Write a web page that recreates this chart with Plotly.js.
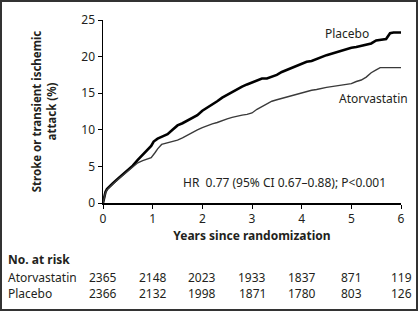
<!DOCTYPE html>
<html>
<head>
<meta charset="utf-8">
<script src="https://cdn.plot.ly/plotly-3.0.1.min.js"></script>
<style>
html,body{margin:0;padding:0;background:#fff;}
#wrap{position:relative;width:418px;height:311px;box-sizing:border-box;border:2px solid #333;overflow:hidden;}
#chart{position:absolute;left:-2px;top:-2px;width:418px;height:311px;}
</style>
</head>
<body>
<div id="wrap"><div id="chart"></div></div>
<script>
// Kaplan-Meier style cumulative incidence
var placeboYears = [0,0.02,0.05,0.08,0.12,0.2,0.3,0.4,0.5,0.6,0.7,0.8,0.9,0.97,1.02,1.1,1.2,1.3,1.4,1.5,1.6,1.7,1.8,1.9,2.0,2.1,2.2,2.3,2.4,2.5,2.6,2.7,2.8,2.9,3.0,3.1,3.2,3.3,3.4,3.5,3.6,3.7,3.8,3.9,4.0,4.1,4.2,4.3,4.4,4.5,4.6,4.7,4.8,4.9,5.0,5.1,5.2,5.3,5.4,5.5,5.6,5.7,5.78,5.85,6.0];
var placeboPct   = [0,0.8,1.5,1.9,2.2,2.7,3.3,3.9,4.5,5.1,5.9,6.6,7.3,7.8,8.4,8.8,9.1,9.4,10.0,10.6,10.9,11.3,11.6,12.0,12.6,13.0,13.4,13.9,14.4,14.8,15.1,15.5,15.9,16.2,16.5,16.8,17.0,17.0,17.2,17.5,17.9,18.2,18.5,18.8,19.1,19.3,19.4,19.7,20.0,20.2,20.4,20.6,20.9,21.0,21.2,21.3,21.5,21.6,21.8,22.2,22.3,22.4,23.2,23.3,23.3];

var atorvaYears = [0,0.02,0.05,0.08,0.12,0.2,0.3,0.4,0.5,0.6,0.7,0.8,0.9,0.97,1.05,1.1,1.18,1.3,1.4,1.5,1.6,1.7,1.8,1.9,2.0,2.1,2.2,2.3,2.4,2.5,2.6,2.7,2.8,2.9,3.0,3.1,3.2,3.3,3.4,3.5,3.6,3.7,3.8,3.9,4.0,4.1,4.2,4.3,4.4,4.5,4.6,4.7,4.8,4.9,5.0,5.1,5.2,5.3,5.4,5.5,5.58,6.0];
var atorvaPct   = [0,0.8,1.4,1.8,2.1,2.6,3.2,3.8,4.4,5.0,5.5,5.8,6.0,6.2,6.9,7.4,8.0,8.2,8.4,8.6,8.9,9.3,9.7,10.0,10.3,10.6,10.8,11.0,11.3,11.5,11.7,11.9,12.0,12.1,12.3,12.8,13.2,13.6,13.9,14.1,14.3,14.5,14.7,14.9,15.0,15.2,15.4,15.5,15.7,15.8,15.9,16.0,16.0,16.1,16.3,16.6,16.8,17.2,17.8,18.2,18.5,18.5];

var riskYears   = [0,1,2,3,4,5,6];
var riskAtorva  = [2365,2148,2023,1933,1837,871,119];
var riskPlacebo = [2366,2132,1998,1871,1780,803,126];

var xTicks = [0,1,2,3,4,5,6];
var yTicks = [0,5,10,15,20,25];

var FONT = 'Noto Sans, DejaVu Sans, sans-serif';
var INK = '#231f20';

var traces = [
  {x: placeboYears, y: placeboPct, mode: 'lines', name: 'Placebo',
   line: {color: '#000', width: 2.6}, hoverinfo: 'skip'},
  {x: atorvaYears, y: atorvaPct, mode: 'lines', name: 'Atorvastatin',
   line: {color: '#3a3a3a', width: 1.4}, hoverinfo: 'skip'}
];

var ann = [];
function txt(o) {
  o.showarrow = false;
  o.yanchor = 'middle';
  o.font = {family: FONT, size: 12, color: INK};
  ann.push(o);
}
txt({xref: 'x', yref: 'y', x: 4.91, y: 23.2, text: 'Placebo'});
txt({xref: 'x', yref: 'y', x: 5.45, y: 14.3, text: 'Atorvastatin'});
txt({xref: 'x', yref: 'y', x: 3.66, y: 2.86, text: 'HR  0.77 (95% CI 0.67\u20130.88); P<0.001'});

var labelX = (6 - 103) / 298;
var rowHead = -(262 - 203) / 192, rowA = -(281 - 203) / 192, rowP = -(298 - 203) / 192;
txt({xref: 'paper', yref: 'paper', x: labelX, y: rowHead, xanchor: 'left', text: '<b>No. at risk</b>'});
txt({xref: 'paper', yref: 'paper', x: labelX, y: rowA, xanchor: 'left', text: 'Atorvastatin'});
txt({xref: 'paper', yref: 'paper', x: labelX, y: rowP, xanchor: 'left', text: 'Placebo'});
for (var i = 0; i < riskYears.length; i++) {
  txt({xref: 'x', yref: 'paper', x: riskYears[i], y: rowA, xanchor: 'center', text: String(riskAtorva[i])});
  txt({xref: 'x', yref: 'paper', x: riskYears[i], y: rowP, xanchor: 'center', text: String(riskPlacebo[i])});
}

var layout = {
  width: 418, height: 311,
  margin: {l: 103, r: 17, t: 11, b: 108, pad: 0},
  paper_bgcolor: '#fff', plot_bgcolor: '#fff',
  showlegend: false,
  font: {family: FONT, size: 12, color: INK},
  xaxis: {
    range: [0, 6], tickvals: xTicks, ticktext: xTicks.map(String),
    showgrid: false, zeroline: false, showline: true, linecolor: '#000', linewidth: 1.5,
    ticks: 'outside', ticklen: 4, tickwidth: 1, tickcolor: '#000',
    tickfont: {family: FONT, size: 12, color: INK},
    automargin: true,
    title: {text: '<b>Years since randomization</b>', font: {family: FONT, size: 12, color: INK}, standoff: 4},
    fixedrange: true
  },
  yaxis: {
    range: [0, 25], tickvals: yTicks, ticktext: yTicks.map(String),
    showgrid: false, zeroline: false, showline: true, linecolor: '#000', linewidth: 1.5,
    ticks: 'outside', ticklen: 4, tickwidth: 1, tickcolor: '#000',
    tickfont: {family: FONT, size: 12, color: INK},
    automargin: true,
    title: {text: '<b>Stroke or transient ischemic<br>attack (%)</b>', font: {family: FONT, size: 11.5, color: INK}, standoff: 22},
    fixedrange: true
  },
  annotations: ann
};

Plotly.newPlot('chart', traces, layout, {displayModeBar: false, staticPlot: true});
</script>
</body>
</html>
